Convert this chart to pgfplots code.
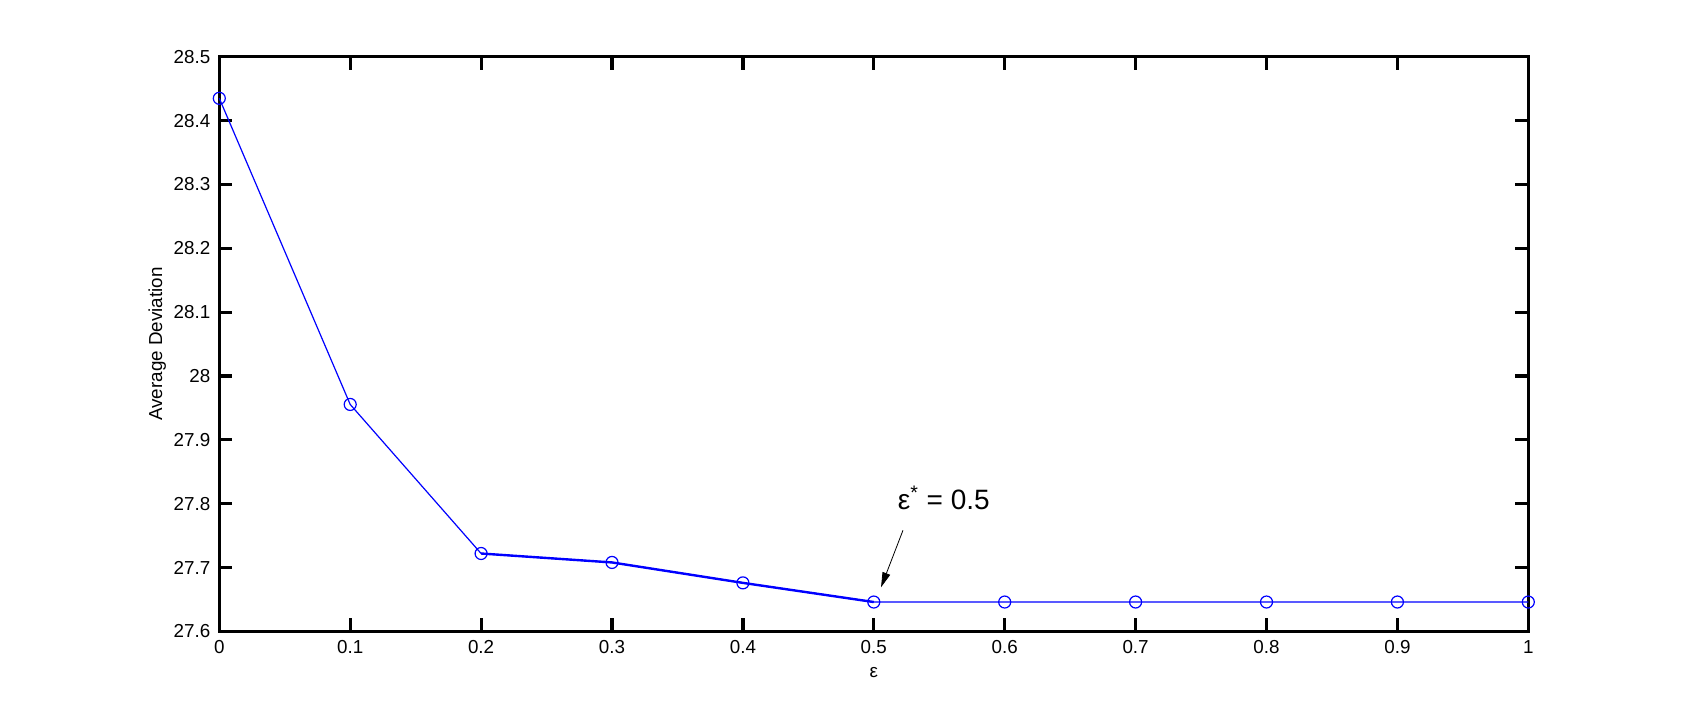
\documentclass[border=0pt]{standalone}
\usepackage{fontspec}
\setmainfont{Liberation Sans}
\usepackage{pgfplots}
\pgfplotsset{compat=1.18}
\usetikzlibrary{arrows.meta}
\begin{document}
\begin{tikzpicture}
\path[use as bounding box] (0,0) rectangle (844pt,353pt);
\begin{axis}[
  at={(109.65pt,37.3pt)}, anchor=south west,
  scale only axis, width=654.5pt, height=287.3pt,
  xmin=0, xmax=1, ymin=27.6, ymax=28.5,
  xtick={0,0.1,...,1.0001}, ytick={27.6,27.7,...,28.5001},
  xticklabels={0,0.1,0.2,0.3,0.4,0.5,0.6,0.7,0.8,0.9,1},
  yticklabels={27.6,27.7,27.8,27.9,28,28.1,28.2,28.3,28.4,28.5},
  tick align=inside, major tick length=6.5pt,
  tick style={line width=1.6pt, black},
  axis line style={line width=1.6pt},
  /pgf/number format/assume math mode=true,
  tick label style={font=\fontsize{9.4}{10}\selectfont},
  yticklabel style={xshift=-1pt},
  xticklabel style={yshift=-1pt},
  xlabel={ε}, ylabel={Average Deviation},
  every axis x label/.style={at={(axis description cs:0.5,-0.0709)}, anchor=center, font=\fontsize{9.4}{10}\selectfont},
  every axis y label/.style={at={(axis description cs:-0.0474,0.5)}, rotate=90, anchor=center, font=\fontsize{9.4}{10}\selectfont},
  clip=false,
]
\addplot[blue, line width=0.6pt, mark=o, mark size=3pt, mark options={line width=0.6pt}] coordinates {
(0,28.435) (0.1,27.9555) (0.2,27.722) (0.3,27.708) (0.4,27.676) (0.5,27.646)
(0.6,27.646) (0.7,27.646) (0.8,27.646) (0.9,27.646) (1.0,27.646)
};
\addplot[blue, line width=1.2pt, mark=none] coordinates {
(0.2,27.722) (0.3,27.708) (0.4,27.676) (0.5,27.646)
};
\node[anchor=west, font=\fontsize{14}{16}\selectfont, inner sep=0pt] at (axis cs:0.518,27.809) {ε\textsuperscript{*} = 0.5};
\draw[line width=0.4pt, -{Triangle[length=7.5pt,width=4pt]}] (axis cs:0.5223,27.7584) -- (axis cs:0.5055,27.669);
\end{axis}
\end{tikzpicture}
\end{document}
